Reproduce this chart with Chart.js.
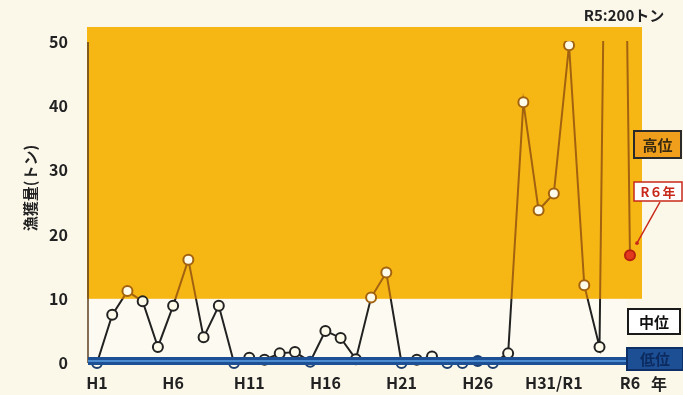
<!DOCTYPE html>
<html>
<head>
<meta charset="utf-8">
<script src="https://cdn.jsdelivr.net/npm/chart.js@4.4.1/dist/chart.umd.min.js"></script>
<style>
  html, body { margin: 0; padding: 0; background: #fbf8ea; }
  #wrap { width: 683px; height: 395px; position: relative; }
</style>
</head>
<body>
<div id="wrap"><canvas id="catchChart" width="683" height="395"></canvas></div>
<script>
// 年（H1〜R6）
const years = [
  "H1", "H2", "H3", "H4", "H5", "H6", "H7", "H8", "H9", "H10",
  "H11", "H12", "H13", "H14", "H15", "H16", "H17", "H18", "H19", "H20",
  "H21", "H22", "H23", "H24", "H25", "H26", "H27", "H28", "H29", "H30",
  "H31/R1", "R2", "R3", "R4", "R5", "R6"
];
// 漁獲量（トン）
const catchTons = [
  0, 7.5, 11.2, 9.6, 2.5, 8.9, 16.1, 4.0, 8.9, 0,
  0.8, 0.5, 1.5, 1.7, 0.2, 5.0, 3.9, 0.6, 10.2, 14.1,
  0, 0.5, 1.0, 0, 0, 0.3, 0, 1.5, 40.6, 23.8,
  26.4, 49.5, 12.1, 2.5, 200, 16.8
];
// 目盛りを出す年
const tickYears = ["H1", "H6", "H11", "H16", "H21", "H26", "H31/R1", "R6"];
const yTicks = [0, 10, 20, 30, 40, 50];
const highLevel = 10;

const FONT = "'Noto Sans CJK JP', 'Noto Sans', sans-serif";
const BROWN = "#a2620f";
const DARK = "#222222";
const LOWBLUE = "#1d4f95";

function lineGradient(ctx) {
  const chart = ctx.chart;
  const area = chart.chartArea;
  if (!area) return DARK;
  const y10 = chart.scales.y.getPixelForValue(highLevel);
  const g = chart.ctx.createLinearGradient(0, area.top, 0, area.bottom);
  const f = Math.min(1, Math.max(0, (y10 - area.top) / (area.bottom - area.top)));
  g.addColorStop(0, BROWN);
  g.addColorStop(f, BROWN);
  g.addColorStop(f, DARK);
  g.addColorStop(1, DARK);
  return g;
}

// 背景の区分（高位・中位・低位）と右側の注記
const zonePlugin = {
  id: "zones",
  beforeDatasetsDraw(chart) {
    const { ctx, chartArea, scales } = chart;
    const y10 = scales.y.getPixelForValue(highLevel);
    const y0 = scales.y.getPixelForValue(0);
    ctx.save();
    ctx.fillStyle = "#fdfbf1";
    ctx.fillRect(chartArea.left, y10, 627 - chartArea.left, y0 - y10);
    ctx.fillStyle = "#f6b714";
    ctx.fillRect(chartArea.left - 1, 27, chartArea.right - chartArea.left + 1, y10 - 27);
    // y軸線
    ctx.strokeStyle = "#5e3f20";
    ctx.lineWidth = 1.5;
    ctx.beginPath();
    ctx.moveTo(chartArea.left, chartArea.top);
    ctx.lineTo(chartArea.left, y0);
    ctx.stroke();
    // 縦軸タイトル
    ctx.translate(30, 188);
    ctx.rotate(-Math.PI / 2);
    ctx.fillStyle = "#222";
    ctx.font = "bold 15px " + FONT;
    ctx.textAlign = "center";
    ctx.textBaseline = "middle";
    ctx.fillText("漁獲量(トン)", 0, 0);
    ctx.restore();
  },
  afterDatasetsDraw(chart) {
    const { ctx, chartArea, scales } = chart;
    const y0 = scales.y.getPixelForValue(0);
    ctx.save();
    // 低位の帯
    ctx.fillStyle = LOWBLUE;
    ctx.fillRect(chartArea.left, y0 - 6, 627 - chartArea.left, 8);
    ctx.fillStyle = "#4b8bd0";
    ctx.fillRect(chartArea.left, y0 - 3, 627 - chartArea.left, 2);

    ctx.font = "bold 15px " + FONT;
    ctx.textAlign = "center";
    ctx.textBaseline = "middle";
    // 高位
    ctx.fillStyle = "#ef9f1c";
    ctx.fillRect(634, 131, 47, 27);
    ctx.strokeStyle = "#2a2a2a";
    ctx.lineWidth = 2;
    ctx.strokeRect(634, 131, 47, 27);
    ctx.fillStyle = "#3a2a10";
    ctx.fillText("高位", 657.5, 145);
    // 中位
    ctx.fillStyle = "#ffffff";
    ctx.fillRect(628, 309, 52, 25);
    ctx.strokeStyle = "#1a1a1a";
    ctx.strokeRect(628, 309, 52, 25);
    ctx.fillStyle = "#111";
    ctx.fillText("中位", 654, 322);
    // 低位
    ctx.fillStyle = LOWBLUE;
    ctx.fillRect(627, 348, 56, 22);
    ctx.strokeStyle = "#0d2f66";
    ctx.strokeRect(627, 348, 56, 22);
    ctx.fillStyle = "#0c2a5e";
    ctx.fillText("低位", 655, 359);
    // R6年
    ctx.fillStyle = "#ffffff";
    ctx.fillRect(634, 182, 48, 19);
    ctx.strokeStyle = "#c8281a";
    ctx.lineWidth = 1.5;
    ctx.strokeRect(634, 182, 48, 19);
    ctx.fillStyle = "#c8281a";
    ctx.font = "bold 13px " + FONT;
    ctx.fillText("R６年", 658, 192);
    const last = chart.getDatasetMeta(0).data[years.length - 1];
    ctx.beginPath();
    ctx.moveTo(660, 202);
    ctx.lineTo(last.x + 7, last.y - 12);
    ctx.stroke();
    ctx.beginPath();
    ctx.arc(last.x + 7, last.y - 12, 1.8, 0, Math.PI * 2);
    ctx.fill();
    // 注記
    ctx.fillStyle = "#222";
    ctx.font = "bold 15px " + FONT;
    ctx.fillText("R5:200トン", 624, 15);
    ctx.font = "bold 16px " + FONT;
    ctx.fillText("年", 659, 384);
    ctx.restore();
  }
};

new Chart(document.getElementById("catchChart"), {
  type: "line",
  data: {
    datasets: [{
      data: catchTons.map((v, i) => ({ x: i, y: v })),
      borderColor: lineGradient,
      borderWidth: 2,
      pointRadius: 5,
      pointBorderWidth: 2,
      pointBackgroundColor: ctx => ctx.dataIndex === years.length - 1 ? "#e23a1c" : "#fffbea",
      pointBorderColor: ctx => {
        if (ctx.dataIndex === years.length - 1) return "#b8200f";
        const v = catchTons[ctx.dataIndex];
        if (v >= highLevel) return BROWN;
        return v < 0.4 ? "#1b3f70" : DARK;
      },
      tension: 0,
      clip: { left: 10, right: 10, top: 1, bottom: 10 }
    }]
  },
  options: {
    responsive: false,
    animation: false,
    layout: { padding: { top: 42, right: 41, left: 0, bottom: 0 } },
    plugins: { legend: { display: false }, tooltip: { enabled: false } },
    scales: {
      x: {
        type: "linear",
        min: -0.59,
        max: 35.79,
        grid: { display: false, drawTicks: false },
        border: { display: false },
        afterBuildTicks: scale => {
          scale.ticks = tickYears.map(t => ({ value: years.indexOf(t) }));
        },
        afterFit: scale => { scale.height = 32; },
        ticks: {
          autoSkip: false,
          maxRotation: 0,
          padding: 10,
          color: "#222",
          font: { family: FONT, size: 16, weight: "bold" },
          callback: v => years[v]
        }
      },
      y: {
        min: 0,
        max: 50,
        grid: { display: false, drawTicks: false },
        border: { display: false },
        afterBuildTicks: scale => {
          scale.ticks = yTicks.map(v => ({ value: v }));
        },
        afterFit: scale => { scale.width = 88; },
        ticks: {
          padding: 20,
          color: "#222",
          font: { family: FONT, size: 16, weight: "bold" }
        }
      }
    }
  },
  plugins: [zonePlugin]
});
</script>
</body>
</html>
